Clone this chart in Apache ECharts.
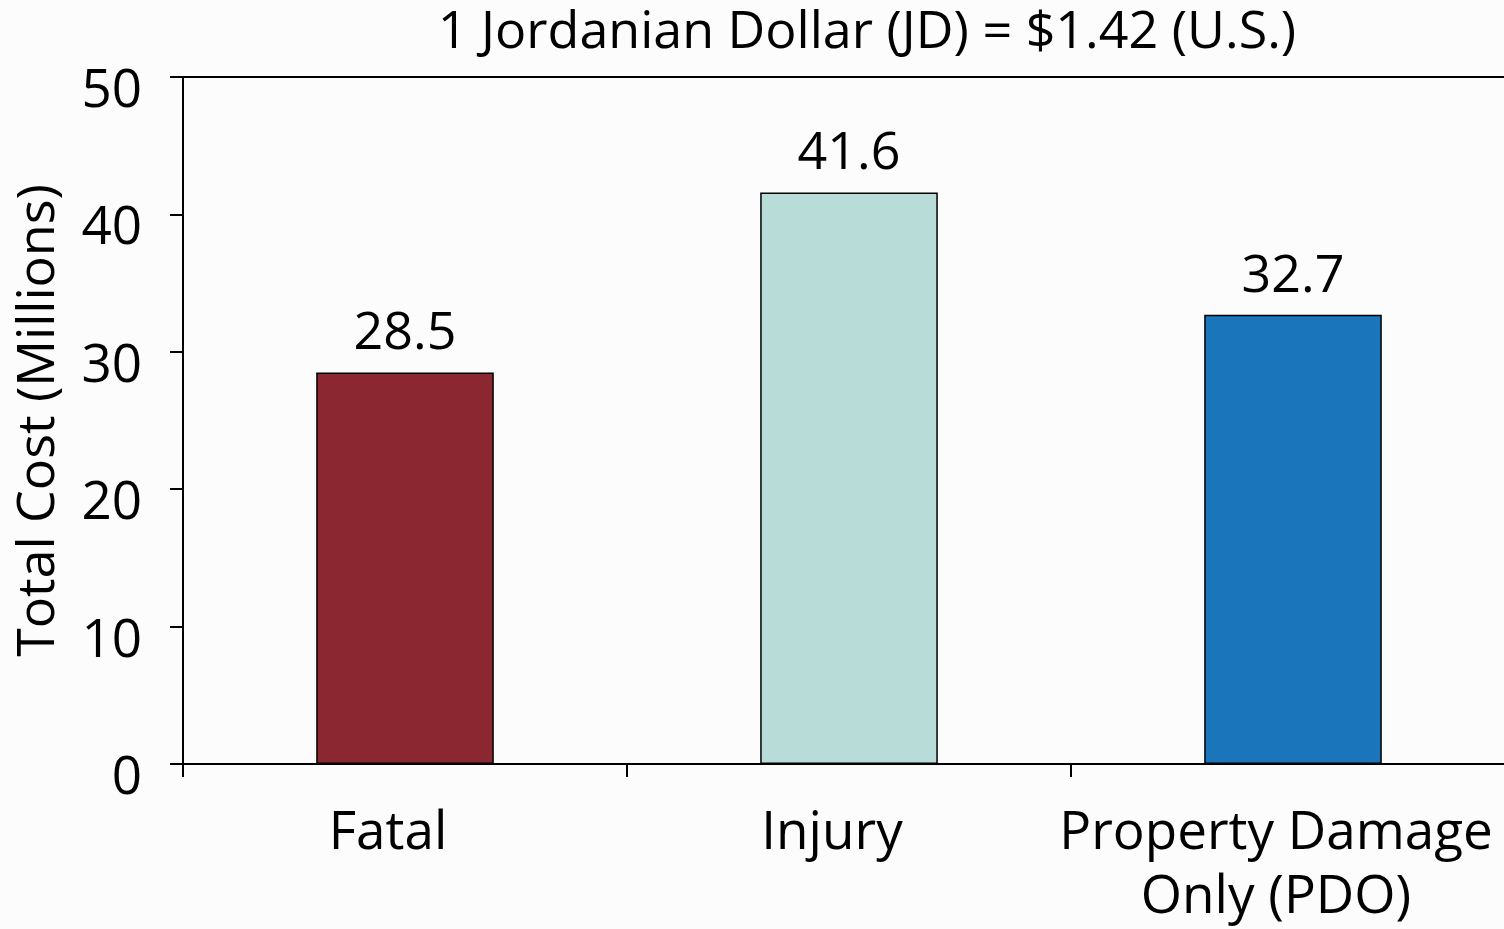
<!DOCTYPE html>
<html>
<head>
<meta charset="utf-8">
<script src="https://cdn.jsdelivr.net/npm/echarts@6/dist/echarts.min.js"></script>
<style>
html,body{margin:0;padding:0;background:#fcfcfc;}
#chart{width:1504px;height:929px;}
</style>
</head>
<body>
<div id="chart"></div>
<script>
const categories = ['Fatal', 'Injury', 'Property Damage\nOnly (PDO)'];
const values = [28.5, 41.6, 32.7];
const barColors = ['#8b2730', '#b8dcd8', '#1b75bb'];
const titleText = '1 Jordanian Dollar (JD) = $1.42 (U.S.)';
const yAxisName = 'Total Cost (Millions)';
const FONT = 'Open Sans';

const chart = echarts.init(document.getElementById('chart'));
chart.setOption({
  backgroundColor: '#fcfcfc',
  animation: false,
  title: {
    text: titleText,
    left: 862,
    top: 2,
    textAlign: 'center',
    textStyle: {fontFamily: FONT, fontSize: 52, fontWeight: 'normal', color: '#000'}
  },
  grid: {left: 183, top: 77, width: 1332, bottom: 165, containLabel: false, outerBoundsMode: 'none'},
  xAxis: [{
    type: 'category',
    data: categories,
    position: 'bottom',
    axisLine: {lineStyle: {color: '#000', width: 2}},
    axisTick: {show: true, interval: 0, length: 13, lineStyle: {color: '#000', width: 2}},
    axisLabel: {interval: 0, fontFamily: FONT, fontSize: 53, color: '#000', margin: 38, lineHeight: 64, padding: [0, 34, 0, 0]}
  }, {
    type: 'category',
    data: categories,
    position: 'top',
    axisLine: {lineStyle: {color: '#000', width: 2}},
    axisTick: {show: false},
    axisLabel: {show: false}
  }],
  yAxis: {
    type: 'value',
    min: 0, max: 50, interval: 10,
    name: yAxisName,
    nameLocation: 'middle',
    nameGap: 118,
    nameTextStyle: {fontFamily: FONT, fontSize: 52, color: '#000'},
    axisLine: {show: true, lineStyle: {color: '#000', width: 2}},
    axisTick: {show: true, length: 13, lineStyle: {color: '#000', width: 2}},
    axisLabel: {fontFamily: FONT, fontSize: 53, color: '#000', margin: 41, verticalAlign: 'top', lineHeight: 30},
    splitLine: {show: false}
  },
  series: [{
    type: 'bar',
    data: values.map((v, i) => ({value: v, itemStyle: {color: barColors[i]}})),
    barWidth: '40%',
    itemStyle: {borderColor: '#000', borderWidth: 1.5},
    label: {show: true, position: 'top', distance: 12, fontFamily: FONT, fontSize: 52, color: '#000'}
  }]
});
</script>
</body>
</html>
